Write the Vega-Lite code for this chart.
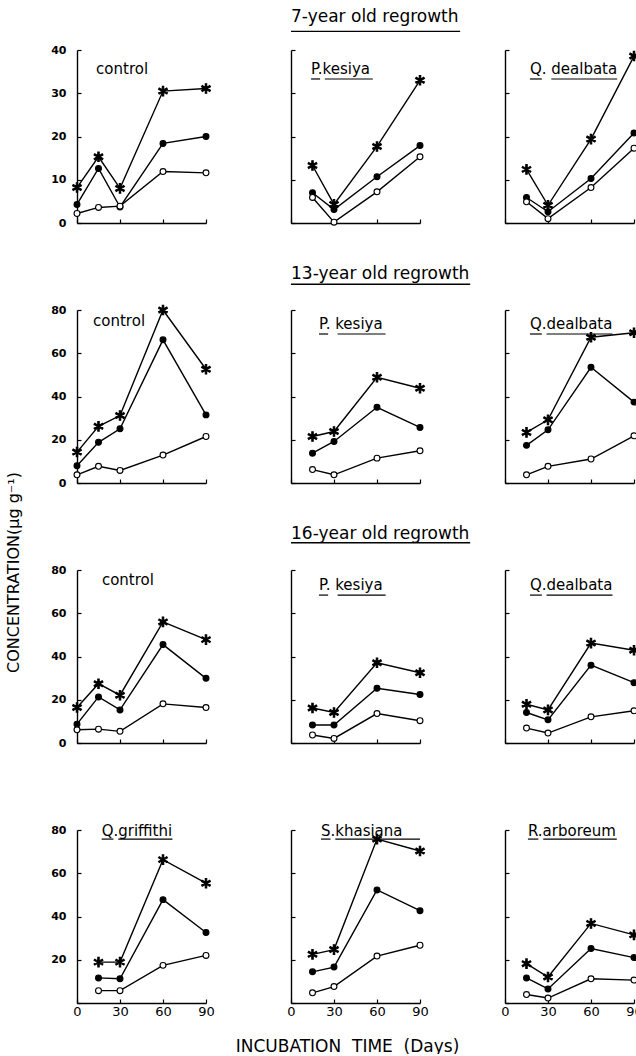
{
"$schema": "https://vega.github.io/schema/vega-lite/v6.json",
"background": "white",
"padding": {"left": 4, "top": 8, "right": 0, "bottom": 0},
"spacing": 260,
"bounds": "flush",
"datasets": {"conc": [
{"stand":"7-year","site":"control","series":"total","day":0,"value":8.2},
{"stand":"7-year","site":"control","series":"total","day":15,"value":15.3},
{"stand":"7-year","site":"control","series":"total","day":30,"value":8.0},
{"stand":"7-year","site":"control","series":"total","day":60,"value":30.5},
{"stand":"7-year","site":"control","series":"total","day":90,"value":31.1},
{"stand":"7-year","site":"control","series":"NH4-N","day":0,"value":4.3},
{"stand":"7-year","site":"control","series":"NH4-N","day":15,"value":12.6},
{"stand":"7-year","site":"control","series":"NH4-N","day":30,"value":3.7},
{"stand":"7-year","site":"control","series":"NH4-N","day":60,"value":18.4},
{"stand":"7-year","site":"control","series":"NH4-N","day":90,"value":20.0},
{"stand":"7-year","site":"control","series":"NO3-N","day":0,"value":2.2},
{"stand":"7-year","site":"control","series":"NO3-N","day":15,"value":3.6},
{"stand":"7-year","site":"control","series":"NO3-N","day":30,"value":3.9},
{"stand":"7-year","site":"control","series":"NO3-N","day":60,"value":11.9},
{"stand":"7-year","site":"control","series":"NO3-N","day":90,"value":11.6},
{"stand":"7-year","site":"P. kesiya","series":"total","day":15,"value":13.3},
{"stand":"7-year","site":"P. kesiya","series":"total","day":30,"value":4.3},
{"stand":"7-year","site":"P. kesiya","series":"total","day":60,"value":17.7},
{"stand":"7-year","site":"P. kesiya","series":"total","day":90,"value":33.0},
{"stand":"7-year","site":"P. kesiya","series":"NH4-N","day":15,"value":7.0},
{"stand":"7-year","site":"P. kesiya","series":"NH4-N","day":30,"value":3.1},
{"stand":"7-year","site":"P. kesiya","series":"NH4-N","day":60,"value":10.7},
{"stand":"7-year","site":"P. kesiya","series":"NH4-N","day":90,"value":17.9},
{"stand":"7-year","site":"P. kesiya","series":"NO3-N","day":15,"value":5.9},
{"stand":"7-year","site":"P. kesiya","series":"NO3-N","day":30,"value":0.2},
{"stand":"7-year","site":"P. kesiya","series":"NO3-N","day":60,"value":7.2},
{"stand":"7-year","site":"P. kesiya","series":"NO3-N","day":90,"value":15.3},
{"stand":"7-year","site":"Q. dealbata","series":"total","day":15,"value":12.4},
{"stand":"7-year","site":"Q. dealbata","series":"total","day":30,"value":4.1},
{"stand":"7-year","site":"Q. dealbata","series":"total","day":60,"value":19.4},
{"stand":"7-year","site":"Q. dealbata","series":"total","day":90,"value":38.6},
{"stand":"7-year","site":"Q. dealbata","series":"NH4-N","day":15,"value":5.9},
{"stand":"7-year","site":"Q. dealbata","series":"NH4-N","day":30,"value":2.6},
{"stand":"7-year","site":"Q. dealbata","series":"NH4-N","day":60,"value":10.3},
{"stand":"7-year","site":"Q. dealbata","series":"NH4-N","day":90,"value":20.8},
{"stand":"7-year","site":"Q. dealbata","series":"NO3-N","day":15,"value":4.9},
{"stand":"7-year","site":"Q. dealbata","series":"NO3-N","day":30,"value":1.0},
{"stand":"7-year","site":"Q. dealbata","series":"NO3-N","day":60,"value":8.2},
{"stand":"7-year","site":"Q. dealbata","series":"NO3-N","day":90,"value":17.3},
{"stand":"13-year","site":"control","series":"total","day":0,"value":14.3},
{"stand":"13-year","site":"control","series":"total","day":15,"value":26.2},
{"stand":"13-year","site":"control","series":"total","day":30,"value":31.2},
{"stand":"13-year","site":"control","series":"total","day":60,"value":80.0},
{"stand":"13-year","site":"control","series":"total","day":90,"value":52.6},
{"stand":"13-year","site":"control","series":"NH4-N","day":0,"value":8.0},
{"stand":"13-year","site":"control","series":"NH4-N","day":15,"value":18.8},
{"stand":"13-year","site":"control","series":"NH4-N","day":30,"value":25.1},
{"stand":"13-year","site":"control","series":"NH4-N","day":60,"value":66.2},
{"stand":"13-year","site":"control","series":"NH4-N","day":90,"value":31.5},
{"stand":"13-year","site":"control","series":"NO3-N","day":0,"value":3.8},
{"stand":"13-year","site":"control","series":"NO3-N","day":15,"value":7.7},
{"stand":"13-year","site":"control","series":"NO3-N","day":30,"value":5.8},
{"stand":"13-year","site":"control","series":"NO3-N","day":60,"value":12.9},
{"stand":"13-year","site":"control","series":"NO3-N","day":90,"value":21.5},
{"stand":"13-year","site":"P. kesiya","series":"total","day":15,"value":21.5},
{"stand":"13-year","site":"P. kesiya","series":"total","day":30,"value":23.8},
{"stand":"13-year","site":"P. kesiya","series":"total","day":60,"value":48.9},
{"stand":"13-year","site":"P. kesiya","series":"total","day":90,"value":43.8},
{"stand":"13-year","site":"P. kesiya","series":"NH4-N","day":15,"value":13.8},
{"stand":"13-year","site":"P. kesiya","series":"NH4-N","day":30,"value":19.2},
{"stand":"13-year","site":"P. kesiya","series":"NH4-N","day":60,"value":35.0},
{"stand":"13-year","site":"P. kesiya","series":"NH4-N","day":90,"value":25.7},
{"stand":"13-year","site":"P. kesiya","series":"NO3-N","day":15,"value":6.2},
{"stand":"13-year","site":"P. kesiya","series":"NO3-N","day":30,"value":3.8},
{"stand":"13-year","site":"P. kesiya","series":"NO3-N","day":60,"value":11.5},
{"stand":"13-year","site":"P. kesiya","series":"NO3-N","day":90,"value":14.9},
{"stand":"13-year","site":"Q. dealbata","series":"total","day":15,"value":23.4},
{"stand":"13-year","site":"Q. dealbata","series":"total","day":30,"value":29.2},
{"stand":"13-year","site":"Q. dealbata","series":"total","day":60,"value":67.4},
{"stand":"13-year","site":"Q. dealbata","series":"total","day":90,"value":69.5},
{"stand":"13-year","site":"Q. dealbata","series":"NH4-N","day":15,"value":17.4},
{"stand":"13-year","site":"Q. dealbata","series":"NH4-N","day":30,"value":24.6},
{"stand":"13-year","site":"Q. dealbata","series":"NH4-N","day":60,"value":53.5},
{"stand":"13-year","site":"Q. dealbata","series":"NH4-N","day":90,"value":37.4},
{"stand":"13-year","site":"Q. dealbata","series":"NO3-N","day":15,"value":3.8},
{"stand":"13-year","site":"Q. dealbata","series":"NO3-N","day":30,"value":7.7},
{"stand":"13-year","site":"Q. dealbata","series":"NO3-N","day":60,"value":11.1},
{"stand":"13-year","site":"Q. dealbata","series":"NO3-N","day":90,"value":21.8},
{"stand":"16-year","site":"control","series":"total","day":0,"value":16.4},
{"stand":"16-year","site":"control","series":"total","day":15,"value":27.4},
{"stand":"16-year","site":"control","series":"total","day":30,"value":22.1},
{"stand":"16-year","site":"control","series":"total","day":60,"value":56.0},
{"stand":"16-year","site":"control","series":"total","day":90,"value":47.8},
{"stand":"16-year","site":"control","series":"NH4-N","day":0,"value":8.7},
{"stand":"16-year","site":"control","series":"NH4-N","day":15,"value":21.3},
{"stand":"16-year","site":"control","series":"NH4-N","day":30,"value":15.3},
{"stand":"16-year","site":"control","series":"NH4-N","day":60,"value":45.5},
{"stand":"16-year","site":"control","series":"NH4-N","day":90,"value":29.9},
{"stand":"16-year","site":"control","series":"NO3-N","day":0,"value":6.1},
{"stand":"16-year","site":"control","series":"NO3-N","day":15,"value":6.4},
{"stand":"16-year","site":"control","series":"NO3-N","day":30,"value":5.4},
{"stand":"16-year","site":"control","series":"NO3-N","day":60,"value":18.1},
{"stand":"16-year","site":"control","series":"NO3-N","day":90,"value":16.4},
{"stand":"16-year","site":"P. kesiya","series":"total","day":15,"value":16.2},
{"stand":"16-year","site":"P. kesiya","series":"total","day":30,"value":14.1},
{"stand":"16-year","site":"P. kesiya","series":"total","day":60,"value":37.1},
{"stand":"16-year","site":"P. kesiya","series":"total","day":90,"value":32.5},
{"stand":"16-year","site":"P. kesiya","series":"NH4-N","day":15,"value":8.3},
{"stand":"16-year","site":"P. kesiya","series":"NH4-N","day":30,"value":8.3},
{"stand":"16-year","site":"P. kesiya","series":"NH4-N","day":60,"value":25.3},
{"stand":"16-year","site":"P. kesiya","series":"NH4-N","day":90,"value":22.4},
{"stand":"16-year","site":"P. kesiya","series":"NO3-N","day":15,"value":3.7},
{"stand":"16-year","site":"P. kesiya","series":"NO3-N","day":30,"value":2.1},
{"stand":"16-year","site":"P. kesiya","series":"NO3-N","day":60,"value":13.6},
{"stand":"16-year","site":"P. kesiya","series":"NO3-N","day":90,"value":10.3},
{"stand":"16-year","site":"Q. dealbata","series":"total","day":15,"value":17.9},
{"stand":"16-year","site":"Q. dealbata","series":"total","day":30,"value":15.3},
{"stand":"16-year","site":"Q. dealbata","series":"total","day":60,"value":46.2},
{"stand":"16-year","site":"Q. dealbata","series":"total","day":90,"value":42.9},
{"stand":"16-year","site":"Q. dealbata","series":"NH4-N","day":15,"value":14.1},
{"stand":"16-year","site":"Q. dealbata","series":"NH4-N","day":30,"value":10.7},
{"stand":"16-year","site":"Q. dealbata","series":"NH4-N","day":60,"value":36.0},
{"stand":"16-year","site":"Q. dealbata","series":"NH4-N","day":90,"value":27.9},
{"stand":"16-year","site":"Q. dealbata","series":"NO3-N","day":15,"value":6.9},
{"stand":"16-year","site":"Q. dealbata","series":"NO3-N","day":30,"value":4.6},
{"stand":"16-year","site":"Q. dealbata","series":"NO3-N","day":60,"value":12.1},
{"stand":"16-year","site":"Q. dealbata","series":"NO3-N","day":90,"value":14.9},
{"stand":"other","site":"Q. griffithi","series":"total","day":15,"value":18.9},
{"stand":"other","site":"Q. griffithi","series":"total","day":30,"value":18.9},
{"stand":"other","site":"Q. griffithi","series":"total","day":60,"value":66.3},
{"stand":"other","site":"Q. griffithi","series":"total","day":90,"value":55.4},
{"stand":"other","site":"Q. griffithi","series":"NH4-N","day":15,"value":11.6},
{"stand":"other","site":"Q. griffithi","series":"NH4-N","day":30,"value":11.2},
{"stand":"other","site":"Q. griffithi","series":"NH4-N","day":60,"value":47.8},
{"stand":"other","site":"Q. griffithi","series":"NH4-N","day":90,"value":32.6},
{"stand":"other","site":"Q. griffithi","series":"NO3-N","day":15,"value":5.7},
{"stand":"other","site":"Q. griffithi","series":"NO3-N","day":30,"value":5.7},
{"stand":"other","site":"Q. griffithi","series":"NO3-N","day":60,"value":17.4},
{"stand":"other","site":"Q. griffithi","series":"NO3-N","day":90,"value":22.0},
{"stand":"other","site":"S. khasiana","series":"total","day":15,"value":22.5},
{"stand":"other","site":"S. khasiana","series":"total","day":30,"value":24.7},
{"stand":"other","site":"S. khasiana","series":"total","day":60,"value":75.8},
{"stand":"other","site":"S. khasiana","series":"total","day":90,"value":70.3},
{"stand":"other","site":"S. khasiana","series":"NH4-N","day":15,"value":14.4},
{"stand":"other","site":"S. khasiana","series":"NH4-N","day":30,"value":16.6},
{"stand":"other","site":"S. khasiana","series":"NH4-N","day":60,"value":52.3},
{"stand":"other","site":"S. khasiana","series":"NH4-N","day":90,"value":42.7},
{"stand":"other","site":"S. khasiana","series":"NO3-N","day":15,"value":4.7},
{"stand":"other","site":"S. khasiana","series":"NO3-N","day":30,"value":7.6},
{"stand":"other","site":"S. khasiana","series":"NO3-N","day":60,"value":21.7},
{"stand":"other","site":"S. khasiana","series":"NO3-N","day":90,"value":26.7},
{"stand":"other","site":"R. arboreum","series":"total","day":15,"value":18.2},
{"stand":"other","site":"R. arboreum","series":"total","day":30,"value":12.0},
{"stand":"other","site":"R. arboreum","series":"total","day":60,"value":36.8},
{"stand":"other","site":"R. arboreum","series":"total","day":90,"value":31.5},
{"stand":"other","site":"R. arboreum","series":"NH4-N","day":15,"value":11.6},
{"stand":"other","site":"R. arboreum","series":"NH4-N","day":30,"value":6.5},
{"stand":"other","site":"R. arboreum","series":"NH4-N","day":60,"value":25.2},
{"stand":"other","site":"R. arboreum","series":"NH4-N","day":90,"value":21.0},
{"stand":"other","site":"R. arboreum","series":"NO3-N","day":15,"value":3.9},
{"stand":"other","site":"R. arboreum","series":"NO3-N","day":30,"value":2.3},
{"stand":"other","site":"R. arboreum","series":"NO3-N","day":60,"value":11.2},
{"stand":"other","site":"R. arboreum","series":"NO3-N","day":90,"value":10.6}
]},
"vconcat": [
{"hconcat": [
 {"width":129,"height":173,"data":{"name":"conc"},"transform":[{"filter":"datum.stand=='7-year'&&datum.site=='control'"}],
  "encoding":{"x":{"field":"day","type":"quantitative","scale":{"domain":[0,90],"nice":false},"axis":{"values":[0,30,60,90],"labels":false,"title":null}},
              "y":{"field":"value","type":"quantitative","scale":{"domain":[0,40],"nice":false},"axis":{"values":[0,10,20,30,40],"title":null}}},
  "layer":[
   {"mark":{"type":"line"},"encoding":{"detail":{"field":"series","type":"nominal"}}},
   {"mark":{"type":"point","filled":true,"stroke":"black","strokeWidth":1.1,"size":90,"opacity":1},"encoding":{"shape":{"field":"series","type":"nominal","legend":null},"fill":{"field":"series","type":"nominal","legend":null}}},
   {"transform":[{"filter":"datum.series=='total'&&datum.day==90"}],"mark":{"type":"text","text":"control"},"encoding":{"x":{"datum":13.3},"y":{"datum":35.6}}}
  ]},
 {"width":129,"height":173,"data":{"name":"conc"},"transform":[{"filter":"datum.stand=='7-year'&&datum.site=='P. kesiya'"}],
  "encoding":{"x":{"field":"day","type":"quantitative","scale":{"domain":[0,90],"nice":false},"axis":{"values":[0,30,60,90],"labels":false,"title":null}},
              "y":{"field":"value","type":"quantitative","scale":{"domain":[0,40],"nice":false},"axis":{"values":[0,10,20,30,40],"labels":false,"title":null}}},
  "layer":[
   {"mark":{"type":"line"},"encoding":{"detail":{"field":"series","type":"nominal"}}},
   {"mark":{"type":"point","filled":true,"stroke":"black","strokeWidth":1.1,"size":90,"opacity":1},"encoding":{"shape":{"field":"series","type":"nominal","legend":null},"fill":{"field":"series","type":"nominal","legend":null}}},
   {"transform":[{"filter":"datum.series=='total'&&datum.day==90"}],"mark":{"type":"text","text":"P.kesiya"},"encoding":{"x":{"datum":14.0},"y":{"datum":35.6}}},
   {"transform":[{"filter":"datum.series=='total'&&datum.day==90"}],"mark":{"type":"rule"},"encoding":{"x":{"datum":14.0},"x2":{"datum":20.3},"y":{"datum":33.3}}},
   {"transform":[{"filter":"datum.series=='total'&&datum.day==90"}],"mark":{"type":"rule"},"encoding":{"x":{"datum":23.6},"x2":{"datum":57.1},"y":{"datum":33.3}}},
   {"transform":[{"filter":"datum.series=='total'&&datum.day==90"}],"mark":{"type":"text","text":"7-year old regrowth","fontSize":17},"encoding":{"x":{"datum":0},"y":{"datum":47.6}}},
   {"transform":[{"filter":"datum.series=='total'&&datum.day==90"}],"mark":{"type":"rule","strokeWidth":1.4},"encoding":{"x":{"datum":0},"x2":{"datum":118},"y":{"datum":44.3}}}
  ]},
 {"width":129,"height":173,"data":{"name":"conc"},"transform":[{"filter":"datum.stand=='7-year'&&datum.site=='Q. dealbata'"}],
  "encoding":{"x":{"field":"day","type":"quantitative","scale":{"domain":[0,90],"nice":false},"axis":{"values":[0,30,60,90],"labels":false,"title":null}},
              "y":{"field":"value","type":"quantitative","scale":{"domain":[0,40],"nice":false},"axis":{"values":[0,10,20,30,40],"labels":false,"title":null}}},
  "layer":[
   {"mark":{"type":"line"},"encoding":{"detail":{"field":"series","type":"nominal"}}},
   {"mark":{"type":"point","filled":true,"stroke":"black","strokeWidth":1.1,"size":90,"opacity":1},"encoding":{"shape":{"field":"series","type":"nominal","legend":null},"fill":{"field":"series","type":"nominal","legend":null}}},
   {"transform":[{"filter":"datum.series=='total'&&datum.day==90"}],"mark":{"type":"text","text":"Q. dealbata"},"encoding":{"x":{"datum":17.4},"y":{"datum":35.6}}},
   {"transform":[{"filter":"datum.series=='total'&&datum.day==90"}],"mark":{"type":"rule"},"encoding":{"x":{"datum":17.4},"x2":{"datum":25.7},"y":{"datum":33.3}}},
   {"transform":[{"filter":"datum.series=='total'&&datum.day==90"}],"mark":{"type":"rule"},"encoding":{"x":{"datum":32.3},"x2":{"datum":78.3},"y":{"datum":33.3}}}
  ]}
], "spacing": 85, "bounds": "flush"},
{"hconcat": [
 {"width":129,"height":173,"data":{"name":"conc"},"transform":[{"filter":"datum.stand=='13-year'&&datum.site=='control'"}],
  "encoding":{"x":{"field":"day","type":"quantitative","scale":{"domain":[0,90],"nice":false},"axis":{"values":[0,30,60,90],"labels":false,"title":null}},
              "y":{"field":"value","type":"quantitative","scale":{"domain":[0,80],"nice":false},"axis":{"values":[0,20,40,60,80],"title":null}}},
  "layer":[
   {"mark":{"type":"line"},"encoding":{"detail":{"field":"series","type":"nominal"}}},
   {"mark":{"type":"point","filled":true,"stroke":"black","strokeWidth":1.1,"size":90,"opacity":1},"encoding":{"shape":{"field":"series","type":"nominal","legend":null},"fill":{"field":"series","type":"nominal","legend":null}}},
   {"transform":[{"filter":"datum.series=='total'&&datum.day==90"}],"mark":{"type":"text","text":"control"},"encoding":{"x":{"datum":11.2},"y":{"datum":74.9}}}
  ]},
 {"width":129,"height":173,"data":{"name":"conc"},"transform":[{"filter":"datum.stand=='13-year'&&datum.site=='P. kesiya'"}],
  "encoding":{"x":{"field":"day","type":"quantitative","scale":{"domain":[0,90],"nice":false},"axis":{"values":[0,30,60,90],"labels":false,"title":null}},
              "y":{"field":"value","type":"quantitative","scale":{"domain":[0,80],"nice":false},"axis":{"values":[0,20,40,60,80],"labels":false,"title":null}}},
  "layer":[
   {"mark":{"type":"line"},"encoding":{"detail":{"field":"series","type":"nominal"}}},
   {"mark":{"type":"point","filled":true,"stroke":"black","strokeWidth":1.1,"size":90,"opacity":1},"encoding":{"shape":{"field":"series","type":"nominal","legend":null},"fill":{"field":"series","type":"nominal","legend":null}}},
   {"transform":[{"filter":"datum.series=='total'&&datum.day==90"}],"mark":{"type":"text","text":"P. kesiya"},"encoding":{"x":{"datum":19.5},"y":{"datum":73.5}}},
   {"transform":[{"filter":"datum.series=='total'&&datum.day==90"}],"mark":{"type":"rule"},"encoding":{"x":{"datum":19.5},"x2":{"datum":25.9},"y":{"datum":68.9}}},
   {"transform":[{"filter":"datum.series=='total'&&datum.day==90"}],"mark":{"type":"rule"},"encoding":{"x":{"datum":32.5},"x2":{"datum":66.0},"y":{"datum":68.9}}},
   {"transform":[{"filter":"datum.series=='total'&&datum.day==90"}],"mark":{"type":"text","text":"13-year old regrowth","fontSize":17},"encoding":{"x":{"datum":0},"y":{"datum":96.5}}},
   {"transform":[{"filter":"datum.series=='total'&&datum.day==90"}],"mark":{"type":"rule","strokeWidth":1.4},"encoding":{"x":{"datum":0},"x2":{"datum":125},"y":{"datum":91.9}}}
  ]},
 {"width":129,"height":173,"data":{"name":"conc"},"transform":[{"filter":"datum.stand=='13-year'&&datum.site=='Q. dealbata'"}],
  "encoding":{"x":{"field":"day","type":"quantitative","scale":{"domain":[0,90],"nice":false},"axis":{"values":[0,30,60,90],"labels":false,"title":null}},
              "y":{"field":"value","type":"quantitative","scale":{"domain":[0,80],"nice":false},"axis":{"values":[0,20,40,60,80],"labels":false,"title":null}}},
  "layer":[
   {"mark":{"type":"line"},"encoding":{"detail":{"field":"series","type":"nominal"}}},
   {"mark":{"type":"point","filled":true,"stroke":"black","strokeWidth":1.1,"size":90,"opacity":1},"encoding":{"shape":{"field":"series","type":"nominal","legend":null},"fill":{"field":"series","type":"nominal","legend":null}}},
   {"transform":[{"filter":"datum.series=='total'&&datum.day==90"}],"mark":{"type":"text","text":"Q.dealbata"},"encoding":{"x":{"datum":17.4},"y":{"datum":73.5}}},
   {"transform":[{"filter":"datum.series=='total'&&datum.day==90"}],"mark":{"type":"rule"},"encoding":{"x":{"datum":17.4},"x2":{"datum":25.7},"y":{"datum":68.9}}},
   {"transform":[{"filter":"datum.series=='total'&&datum.day==90"}],"mark":{"type":"rule"},"encoding":{"x":{"datum":29.0},"x2":{"datum":75.0},"y":{"datum":68.9}}}
  ]}
], "spacing": 85, "bounds": "flush"},
{"hconcat": [
 {"width":129,"height":173,"data":{"name":"conc"},"transform":[{"filter":"datum.stand=='16-year'&&datum.site=='control'"}],
  "encoding":{"x":{"field":"day","type":"quantitative","scale":{"domain":[0,90],"nice":false},"axis":{"values":[0,30,60,90],"labels":false,"title":null}},
              "y":{"field":"value","type":"quantitative","scale":{"domain":[0,80],"nice":false},"axis":{"values":[0,20,40,60,80],"title":"CONCENTRATION(μg g⁻¹)","titleX":-64,"titleY":2,"titleAngle":270,"titleAlign":"center","titleBaseline":"middle","titleFontSize":16}}},
  "layer":[
   {"mark":{"type":"line"},"encoding":{"detail":{"field":"series","type":"nominal"}}},
   {"mark":{"type":"point","filled":true,"stroke":"black","strokeWidth":1.1,"size":90,"opacity":1},"encoding":{"shape":{"field":"series","type":"nominal","legend":null},"fill":{"field":"series","type":"nominal","legend":null}}},
   {"transform":[{"filter":"datum.series=='total'&&datum.day==90"}],"mark":{"type":"text","text":"control"},"encoding":{"x":{"datum":17.4},"y":{"datum":75.4}}}
  ]},
 {"width":129,"height":173,"data":{"name":"conc"},"transform":[{"filter":"datum.stand=='16-year'&&datum.site=='P. kesiya'"}],
  "encoding":{"x":{"field":"day","type":"quantitative","scale":{"domain":[0,90],"nice":false},"axis":{"values":[0,30,60,90],"labels":false,"title":null}},
              "y":{"field":"value","type":"quantitative","scale":{"domain":[0,80],"nice":false},"axis":{"values":[0,20,40,60,80],"labels":false,"title":null}}},
  "layer":[
   {"mark":{"type":"line"},"encoding":{"detail":{"field":"series","type":"nominal"}}},
   {"mark":{"type":"point","filled":true,"stroke":"black","strokeWidth":1.1,"size":90,"opacity":1},"encoding":{"shape":{"field":"series","type":"nominal","legend":null},"fill":{"field":"series","type":"nominal","legend":null}}},
   {"transform":[{"filter":"datum.series=='total'&&datum.day==90"}],"mark":{"type":"text","text":"P. kesiya"},"encoding":{"x":{"datum":19.5},"y":{"datum":73.1}}},
   {"transform":[{"filter":"datum.series=='total'&&datum.day==90"}],"mark":{"type":"rule"},"encoding":{"x":{"datum":19.5},"x2":{"datum":25.9},"y":{"datum":68.4}}},
   {"transform":[{"filter":"datum.series=='total'&&datum.day==90"}],"mark":{"type":"rule"},"encoding":{"x":{"datum":32.5},"x2":{"datum":66.0},"y":{"datum":68.4}}},
   {"transform":[{"filter":"datum.series=='total'&&datum.day==90"}],"mark":{"type":"text","text":"16-year old regrowth","fontSize":17},"encoding":{"x":{"datum":0},"y":{"datum":96.5}}},
   {"transform":[{"filter":"datum.series=='total'&&datum.day==90"}],"mark":{"type":"rule","strokeWidth":1.4},"encoding":{"x":{"datum":0},"x2":{"datum":125},"y":{"datum":92.6}}}
  ]},
 {"width":129,"height":173,"data":{"name":"conc"},"transform":[{"filter":"datum.stand=='16-year'&&datum.site=='Q. dealbata'"}],
  "encoding":{"x":{"field":"day","type":"quantitative","scale":{"domain":[0,90],"nice":false},"axis":{"values":[0,30,60,90],"labels":false,"title":null}},
              "y":{"field":"value","type":"quantitative","scale":{"domain":[0,80],"nice":false},"axis":{"values":[0,20,40,60,80],"labels":false,"title":null}}},
  "layer":[
   {"mark":{"type":"line"},"encoding":{"detail":{"field":"series","type":"nominal"}}},
   {"mark":{"type":"point","filled":true,"stroke":"black","strokeWidth":1.1,"size":90,"opacity":1},"encoding":{"shape":{"field":"series","type":"nominal","legend":null},"fill":{"field":"series","type":"nominal","legend":null}}},
   {"transform":[{"filter":"datum.series=='total'&&datum.day==90"}],"mark":{"type":"text","text":"Q.dealbata"},"encoding":{"x":{"datum":17.4},"y":{"datum":73.1}}},
   {"transform":[{"filter":"datum.series=='total'&&datum.day==90"}],"mark":{"type":"rule"},"encoding":{"x":{"datum":17.4},"x2":{"datum":25.7},"y":{"datum":68.4}}},
   {"transform":[{"filter":"datum.series=='total'&&datum.day==90"}],"mark":{"type":"rule"},"encoding":{"x":{"datum":29.0},"x2":{"datum":75.0},"y":{"datum":68.4}}}
  ]}
], "spacing": 85, "bounds": "flush"},
{"hconcat": [
 {"width":129,"height":173,"data":{"name":"conc"},"transform":[{"filter":"datum.stand=='other'&&datum.site=='Q. griffithi'"}],
  "encoding":{"x":{"field":"day","type":"quantitative","scale":{"domain":[0,90],"nice":false},"axis":{"values":[0,30,60,90],"title":null}},
              "y":{"field":"value","type":"quantitative","scale":{"domain":[0,80],"nice":false},"axis":{"values":[0,20,40,60,80],"labelExpr":"datum.value == 0 ? '' : datum.label","title":null}}},
  "layer":[
   {"mark":{"type":"line"},"encoding":{"detail":{"field":"series","type":"nominal"}}},
   {"mark":{"type":"point","filled":true,"stroke":"black","strokeWidth":1.1,"size":90,"opacity":1},"encoding":{"shape":{"field":"series","type":"nominal","legend":null},"fill":{"field":"series","type":"nominal","legend":null}}},
   {"transform":[{"filter":"datum.series=='total'&&datum.day==90"}],"mark":{"type":"text","text":"Q.griffithi"},"encoding":{"x":{"datum":17.2},"y":{"datum":79.5}}},
   {"transform":[{"filter":"datum.series=='total'&&datum.day==90"}],"mark":{"type":"rule"},"encoding":{"x":{"datum":17.2},"x2":{"datum":25.4},"y":{"datum":75.8}}},
   {"transform":[{"filter":"datum.series=='total'&&datum.day==90"}],"mark":{"type":"rule"},"encoding":{"x":{"datum":28.8},"x2":{"datum":66.6},"y":{"datum":75.8}}}
  ]},
 {"width":129,"height":173,"data":{"name":"conc"},"transform":[{"filter":"datum.stand=='other'&&datum.site=='S. khasiana'"}],
  "encoding":{"x":{"field":"day","type":"quantitative","scale":{"domain":[0,90],"nice":false},"axis":{"values":[0,30,60,90],"title":"INCUBATION \u00a0TIME \u00a0(Days)","titleX":56,"titleY":43,"titleAlign":"center","titleBaseline":"middle","titleFontSize":17}},
              "y":{"field":"value","type":"quantitative","scale":{"domain":[0,80],"nice":false},"axis":{"values":[0,20,40,60,80],"labels":false,"title":null}}},
  "layer":[
   {"mark":{"type":"line"},"encoding":{"detail":{"field":"series","type":"nominal"}}},
   {"mark":{"type":"point","filled":true,"stroke":"black","strokeWidth":1.1,"size":90,"opacity":1},"encoding":{"shape":{"field":"series","type":"nominal","legend":null},"fill":{"field":"series","type":"nominal","legend":null}}},
   {"transform":[{"filter":"datum.series=='total'&&datum.day==90"}],"mark":{"type":"text","text":"S.khasiana"},"encoding":{"x":{"datum":20.9},"y":{"datum":79.5}}},
   {"transform":[{"filter":"datum.series=='total'&&datum.day==90"}],"mark":{"type":"rule"},"encoding":{"x":{"datum":20.9},"x2":{"datum":27.6},"y":{"datum":75.8}}},
   {"transform":[{"filter":"datum.series=='total'&&datum.day==90"}],"mark":{"type":"rule"},"encoding":{"x":{"datum":30.9},"x2":{"datum":90},"y":{"datum":75.8}}}
  ]},
 {"width":129,"height":173,"data":{"name":"conc"},"transform":[{"filter":"datum.stand=='other'&&datum.site=='R. arboreum'"}],
  "encoding":{"x":{"field":"day","type":"quantitative","scale":{"domain":[0,90],"nice":false},"axis":{"values":[0,30,60,90],"title":null}},
              "y":{"field":"value","type":"quantitative","scale":{"domain":[0,80],"nice":false},"axis":{"values":[0,20,40,60,80],"labels":false,"title":null}}},
  "layer":[
   {"mark":{"type":"line"},"encoding":{"detail":{"field":"series","type":"nominal"}}},
   {"mark":{"type":"point","filled":true,"stroke":"black","strokeWidth":1.1,"size":90,"opacity":1},"encoding":{"shape":{"field":"series","type":"nominal","legend":null},"fill":{"field":"series","type":"nominal","legend":null}}},
   {"transform":[{"filter":"datum.series=='total'&&datum.day==90"}],"mark":{"type":"text","text":"R.arboreum"},"encoding":{"x":{"datum":16.0},"y":{"datum":79.5}}},
   {"transform":[{"filter":"datum.series=='total'&&datum.day==90"}],"mark":{"type":"rule"},"encoding":{"x":{"datum":16.0},"x2":{"datum":23.3},"y":{"datum":75.8}}},
   {"transform":[{"filter":"datum.series=='total'&&datum.day==90"}],"mark":{"type":"rule"},"encoding":{"x":{"datum":26.7},"x2":{"datum":78.0},"y":{"datum":75.8}}}
  ]}
], "spacing": 85, "bounds": "flush"}
],
"config": {
 "view": {"stroke": null},
 "font": "DejaVu Sans",
 "axis": {"grid": false, "domainColor": "black", "domainWidth": 1.4, "tickColor": "black", "tickWidth": 1.2, "tickSize": -4, "labelColor": "black", "labelFont": "DejaVu Sans", "labelFlush": false, "titleColor": "black", "titleFont": "DejaVu Sans", "titleFontWeight": "normal"},
 "axisX": {"labelFontSize": 13, "labelPadding": 6},
 "axisY": {"labelFontSize": 11, "labelFontWeight": "bold", "labelPadding": 15},
 "range": {"category": ["black", "white", "black"], "symbol": ["M0.62,0A0.62,0.62,0,1,1,-0.62,0A0.62,0.62,0,1,1,0.62,0Z", "M0.62,0A0.62,0.62,0,1,1,-0.62,0A0.62,0.62,0,1,1,0.62,0Z", "M0.15,1L0.15,-1L-0.15,-1L-0.15,1ZM0.941,0.37L-0.791,-0.63L-0.941,-0.37L0.791,0.63ZM0.791,-0.63L-0.941,0.37L-0.791,0.63L0.941,-0.37Z"]},
 "legend": {"disable": true},
 "text": {"font": "DejaVu Sans", "fontSize": 15, "color": "black", "align": "left", "baseline": "middle"},
 "rule": {"color": "black", "strokeWidth": 1.2},
 "line": {"color": "black", "strokeWidth": 1.4}
}
}
